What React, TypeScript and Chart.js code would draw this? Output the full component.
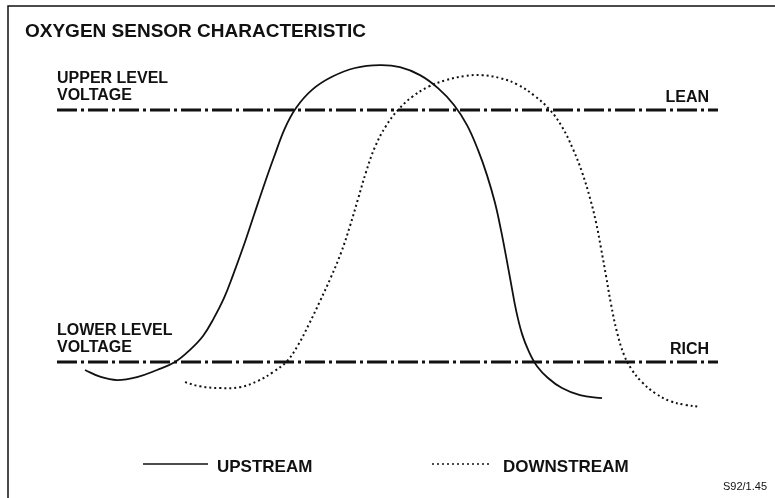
import React, { useEffect, useRef } from "react";
import { Chart, registerables } from "chart.js";

Chart.register(...registerables);

// Time axis (arbitrary units 0..100), sensor voltage (normalised 0..1)
const upstreamX = [4.24, 6.51, 9.08, 12.1, 15.13, 17.85, 20.12, 22.09, 23.75, 25.26, 26.63, 28.29, 29.8, 31.32, 32.83, 34.49, 36.16, 38.58, 41.6, 45.08, 48.87, 51.89, 54.92, 57.64, 60.06, 62.03, 63.69, 65.05, 66.26, 67.17, 67.93, 68.68, 69.44, 70.35, 71.41, 72.62, 74.28, 76.4, 79.12, 82.45];
const upstreamY = [0.181, 0.165, 0.157, 0.164, 0.181, 0.2, 0.229, 0.262, 0.305, 0.352, 0.407, 0.479, 0.55, 0.621, 0.688, 0.757, 0.805, 0.848, 0.879, 0.9, 0.907, 0.902, 0.883, 0.852, 0.812, 0.764, 0.705, 0.645, 0.579, 0.514, 0.452, 0.388, 0.324, 0.267, 0.224, 0.19, 0.162, 0.138, 0.121, 0.114];

const downstreamX = [19.36, 21.63, 24.66, 27.69, 30.41, 32.68, 34.8, 36.46, 38.12, 39.79, 41.45, 42.97, 44.33, 45.54, 46.75, 48.11, 49.77, 51.59, 53.71, 56.13, 58.85, 61.72, 64.3, 67.02, 69.74, 72.31, 74.58, 76.4, 78.06, 79.43, 80.64, 81.54, 82.3, 83.06, 83.81, 84.72, 85.78, 86.99, 88.5, 90.47, 92.74, 95.01, 97.28];
const downstreamY = [0.152, 0.142, 0.138, 0.14, 0.155, 0.176, 0.202, 0.24, 0.29, 0.345, 0.402, 0.46, 0.524, 0.588, 0.652, 0.712, 0.762, 0.8, 0.831, 0.855, 0.871, 0.881, 0.883, 0.876, 0.86, 0.833, 0.8, 0.76, 0.707, 0.652, 0.59, 0.533, 0.471, 0.405, 0.338, 0.271, 0.217, 0.181, 0.152, 0.126, 0.107, 0.098, 0.093];

const seriesLabels = ["UPSTREAM", "DOWNSTREAM"];

const levelValues = [0.8, 0.2];
const levelLeftLabels = [["UPPER LEVEL", "VOLTAGE"], ["LOWER LEVEL", "VOLTAGE"]];
const levelRightLabels = ["LEAN", "RICH"];
const levelRange = [0, 100];

const titleText = "OXYGEN SENSOR CHARACTERISTIC";
const codeText = "S92/1.45";

const FONT = "'Liberation Sans', Arial, Helvetica, sans-serif";
const INK = "#111";

const decorPlugin = {
  id: "decor",
  afterDraw(chart: any) {
    const ctx = chart.ctx;
    const ca = chart.chartArea;
    const ys = chart.scales.y;
    const W = chart.width;
    const H = chart.height;
    ctx.save();
    // frame (top and left edges)
    ctx.strokeStyle = INK;
    ctx.lineWidth = 1.5;
    ctx.setLineDash([]);
    ctx.beginPath();
    ctx.moveTo(W, 6);
    ctx.lineTo(8, 6);
    ctx.lineTo(8, H);
    ctx.stroke();

    ctx.fillStyle = INK;
    ctx.textBaseline = "alphabetic";
    // title
    ctx.textAlign = "left";
    ctx.font = `bold 19px ${FONT}`;
    ctx.fillText(titleText, 25, 37);

    // level labels
    ctx.font = `bold 16px ${FONT}`;
    levelValues.forEach((v, i) => {
      const py = ys.getPixelForValue(v);
      const lines = levelLeftLabels[i];
      ctx.textAlign = "left";
      ctx.fillText(lines[0], ca.left, py - 27);
      ctx.fillText(lines[1], ca.left, py - 10);
      ctx.textAlign = "right";
      ctx.fillText(levelRightLabels[i], ca.right - 9, py - 8);
    });

    // legend
    const legendStarts = [143, 432];
    const legendLineLens = [65, 58];
    const legendGaps = [9, 13];
    const ly = 464;
    ctx.font = `bold 17px ${FONT}`;
    ctx.textAlign = "left";
    seriesLabels.forEach((lab, i) => {
      const ds = chart.data.datasets[i];
      ctx.strokeStyle = ds.borderColor;
      ctx.lineWidth = 1.6;
      ctx.setLineDash(ds.borderDash || []);
      ctx.beginPath();
      ctx.moveTo(legendStarts[i], ly);
      ctx.lineTo(legendStarts[i] + legendLineLens[i], ly);
      ctx.stroke();
      ctx.setLineDash([]);
      ctx.fillText(lab, legendStarts[i] + legendLineLens[i] + legendGaps[i], ly + 8);
    });

    // figure code
    ctx.font = `11px ${FONT}`;
    ctx.textAlign = "right";
    ctx.fillText(codeText, W - 8, 490);
    ctx.restore();
  },
};

export default function App() {
  const ref = useRef<HTMLCanvasElement | null>(null);
  useEffect(() => {
    document.body.style.margin = "0";
    const canvas = ref.current!;
    const toPts = (xs: number[], ys: number[]) => xs.map((x, i) => ({ x, y: ys[i] }));
    const chart = new Chart(canvas, {
      type: "line",
      data: {
        datasets: [
          {
            label: seriesLabels[0],
            data: toPts(upstreamX, upstreamY),
            borderColor: INK,
            borderWidth: 1.8,
            pointRadius: 0,
            fill: false,
            tension: 0.4,
          },
          {
            label: seriesLabels[1],
            data: toPts(downstreamX, downstreamY),
            borderColor: INK,
            borderWidth: 2,
            borderDash: [2, 3],
            pointRadius: 0,
            fill: false,
            tension: 0.4,
          },
          ...levelValues.map((v, i) => ({
            label: levelRightLabels[i],
            data: levelRange.map((x) => ({ x, y: v })),
            borderColor: INK,
            borderWidth: 3,
            borderDash: [20, 4, 3, 4],
            pointRadius: 0,
            fill: false,
          })),
        ],
      },
      options: {
        animation: false,
        responsive: false,
        events: [],
        layout: { padding: { left: 57, right: 57, top: 26, bottom: 52 } },
        plugins: {
          legend: { display: false },
          title: { display: false },
          tooltip: { enabled: false },
        },
        scales: {
          x: { type: "linear", min: 0, max: 100, display: false },
          y: { type: "linear", min: 0, max: 1, display: false },
        },
      },
      plugins: [decorPlugin],
    } as any);
    return () => chart.destroy();
  }, []);
  return (
    <div style={{ position: "absolute", left: 0, top: 0, width: 775, height: 498, background: "#fff" }}>
      <canvas ref={ref} width={775} height={498} />
    </div>
  );
}
